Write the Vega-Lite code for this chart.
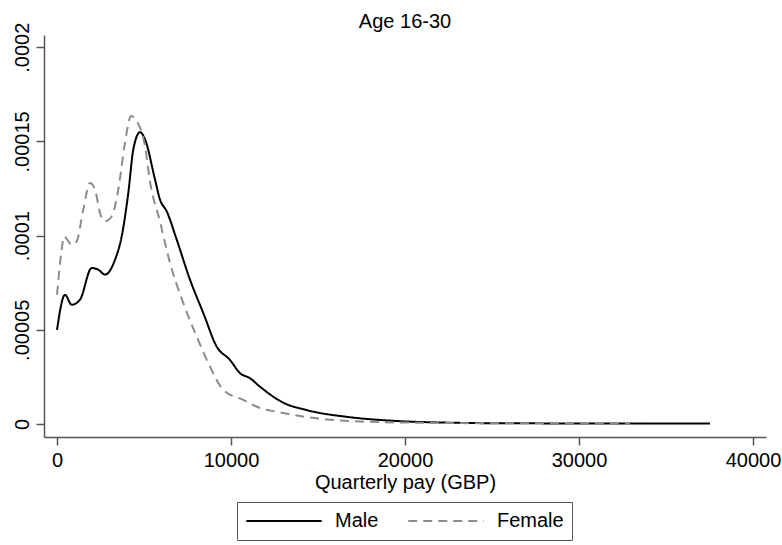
{
  "$schema": "https://vega.github.io/schema/vega-lite/v6.json",
  "autosize": "none",
  "width": 722,
  "height": 402,
  "padding": {"left": 44, "top": 35, "right": 16, "bottom": 108},
  "background": "white",
  "title": {"text": "Age 16-30", "fontSize": 20, "fontWeight": "normal", "font": "Liberation Sans", "color": "black", "frame": "group", "anchor": "middle", "baseline": "bottom", "offset": 5, "dy": 35},
  "config": {
    "view": {"stroke": null},
    "font": "Liberation Sans",
    "axis": {"grid": false, "domainColor": "#555555", "tickColor": "#555555", "domainWidth": 1.5, "tickWidth": 1.5, "labelColor": "black", "titleColor": "black", "labelFont": "Liberation Sans", "titleFont": "Liberation Sans", "labelFontSize": 20, "titleFontSize": 20, "titleFontWeight": "normal", "tickSize": 8}
  },
  "data": {"values": [
    {"pay": 0, "density": 5.0e-5, "sex": "Male"},
    {"pay": 460, "density": 6.86e-5, "sex": "Male"},
    {"pay": 845, "density": 6.33e-5, "sex": "Male"},
    {"pay": 1322, "density": 6.60e-5, "sex": "Male"},
    {"pay": 1994, "density": 8.28e-5, "sex": "Male"},
    {"pay": 2374, "density": 8.19e-5, "sex": "Male"},
    {"pay": 2759, "density": 7.93e-5, "sex": "Male"},
    {"pay": 3333, "density": 8.72e-5, "sex": "Male"},
    {"pay": 3718, "density": 9.96e-5, "sex": "Male"},
    {"pay": 4098, "density": 1.227e-4, "sex": "Male"},
    {"pay": 4385, "density": 1.457e-4, "sex": "Male"},
    {"pay": 4770, "density": 1.549e-4, "sex": "Male"},
    {"pay": 5057, "density": 1.511e-4, "sex": "Male"},
    {"pay": 5632, "density": 1.298e-4, "sex": "Male"},
    {"pay": 5920, "density": 1.191e-4, "sex": "Male"},
    {"pay": 6305, "density": 1.129e-4, "sex": "Male"},
    {"pay": 6879, "density": 9.79e-5, "sex": "Male"},
    {"pay": 7644, "density": 7.66e-5, "sex": "Male"},
    {"pay": 8408, "density": 5.89e-5, "sex": "Male"},
    {"pay": 9178, "density": 4.11e-5, "sex": "Male"},
    {"pay": 9943, "density": 3.40e-5, "sex": "Male"},
    {"pay": 10517, "density": 2.70e-5, "sex": "Male"},
    {"pay": 11092, "density": 2.43e-5, "sex": "Male"},
    {"pay": 11667, "density": 1.98e-5, "sex": "Male"},
    {"pay": 13006, "density": 1.13e-5, "sex": "Male"},
    {"pay": 14350, "density": 7.4e-6, "sex": "Male"},
    {"pay": 16839, "density": 3.6e-6, "sex": "Male"},
    {"pay": 19138, "density": 1.8e-6, "sex": "Male"},
    {"pay": 22586, "density": 7e-7, "sex": "Male"},
    {"pay": 25460, "density": 4e-7, "sex": "Male"},
    {"pay": 31207, "density": 3e-7, "sex": "Male"},
    {"pay": 37529, "density": 3e-7, "sex": "Male"},
    {"pay": 0, "density": 6.86e-5, "sex": "Female"},
    {"pay": 270, "density": 9.26e-5, "sex": "Female"},
    {"pay": 402, "density": 9.96e-5, "sex": "Female"},
    {"pay": 845, "density": 9.52e-5, "sex": "Female"},
    {"pay": 1132, "density": 9.70e-5, "sex": "Female"},
    {"pay": 1511, "density": 1.138e-4, "sex": "Female"},
    {"pay": 1897, "density": 1.280e-4, "sex": "Female"},
    {"pay": 2184, "density": 1.245e-4, "sex": "Female"},
    {"pay": 2471, "density": 1.121e-4, "sex": "Female"},
    {"pay": 2759, "density": 1.076e-4, "sex": "Female"},
    {"pay": 3144, "density": 1.103e-4, "sex": "Female"},
    {"pay": 3523, "density": 1.245e-4, "sex": "Female"},
    {"pay": 3908, "density": 1.493e-4, "sex": "Female"},
    {"pay": 4253, "density": 1.635e-4, "sex": "Female"},
    {"pay": 4580, "density": 1.608e-4, "sex": "Female"},
    {"pay": 5057, "density": 1.475e-4, "sex": "Female"},
    {"pay": 5345, "density": 1.287e-4, "sex": "Female"},
    {"pay": 5920, "density": 1.074e-4, "sex": "Female"},
    {"pay": 6494, "density": 8.55e-5, "sex": "Female"},
    {"pay": 7259, "density": 6.42e-5, "sex": "Female"},
    {"pay": 8028, "density": 4.64e-5, "sex": "Female"},
    {"pay": 8793, "density": 3.05e-5, "sex": "Female"},
    {"pay": 9557, "density": 1.81e-5, "sex": "Female"},
    {"pay": 10707, "density": 1.28e-5, "sex": "Female"},
    {"pay": 11667, "density": 8.5e-6, "sex": "Female"},
    {"pay": 12626, "density": 6.5e-6, "sex": "Female"},
    {"pay": 14925, "density": 3.0e-6, "sex": "Female"},
    {"pay": 17798, "density": 1.2e-6, "sex": "Female"},
    {"pay": 20672, "density": 7e-7, "sex": "Female"},
    {"pay": 25460, "density": 4e-7, "sex": "Female"},
    {"pay": 32931, "density": 3e-7, "sex": "Female"}
  ]},
  "mark": {"type": "line", "interpolate": "monotone", "strokeWidth": 2},
  "encoding": {
    "x": {"field": "pay", "type": "quantitative",
      "scale": {"domain": [-747, 40747], "nice": false, "zero": false},
      "axis": {"values": [0, 10000, 20000, 30000, 40000], "format": "d", "title": "Quarterly pay (GBP)", "labelPadding": 5, "titlePadding": 2, "labelFlush": false}},
    "y": {"field": "density", "type": "quantitative",
      "scale": {"domain": [-6.9e-6, 2.065e-4], "nice": false, "zero": false},
      "axis": {"values": [0, 0.00005, 0.0001, 0.00015, 0.0002], "title": null, "labelAngle": -90, "labelAlign": "center", "labelBaseline": "alphabetic", "labelPadding": 8, "labelFlush": false, "labelOverlap": false,
        "labelExpr": "replace(format(datum.value, '.5~f'), '0.', '.')"}},
    "color": {"field": "sex", "type": "nominal",
      "scale": {"domain": ["Male", "Female"], "range": ["#000000", "#8c8c8c"]},
      "legend": {"title": null, "orient": "none", "legendX": 193, "legendY": 467, "direction": "horizontal", "strokeColor": "#555555", "fillColor": "white", "padding": 8, "clipHeight": 22, "symbolType": "stroke", "symbolSize": 5700, "symbolStrokeWidth": 2, "labelFontSize": 20, "labelColor": "black", "labelOffset": 12, "columnPadding": 28}},
    "strokeDash": {"field": "sex", "type": "nominal",
      "scale": {"domain": ["Male", "Female"], "range": [[1, 0], [9, 6]]},
      "legend": {"title": null, "orient": "none", "legendX": 193, "legendY": 467, "direction": "horizontal", "strokeColor": "#555555", "fillColor": "white", "padding": 8, "clipHeight": 22, "symbolType": "stroke", "symbolSize": 5700, "symbolStrokeWidth": 2, "labelFontSize": 20, "labelColor": "black", "labelOffset": 12, "columnPadding": 28}}
  }
}
